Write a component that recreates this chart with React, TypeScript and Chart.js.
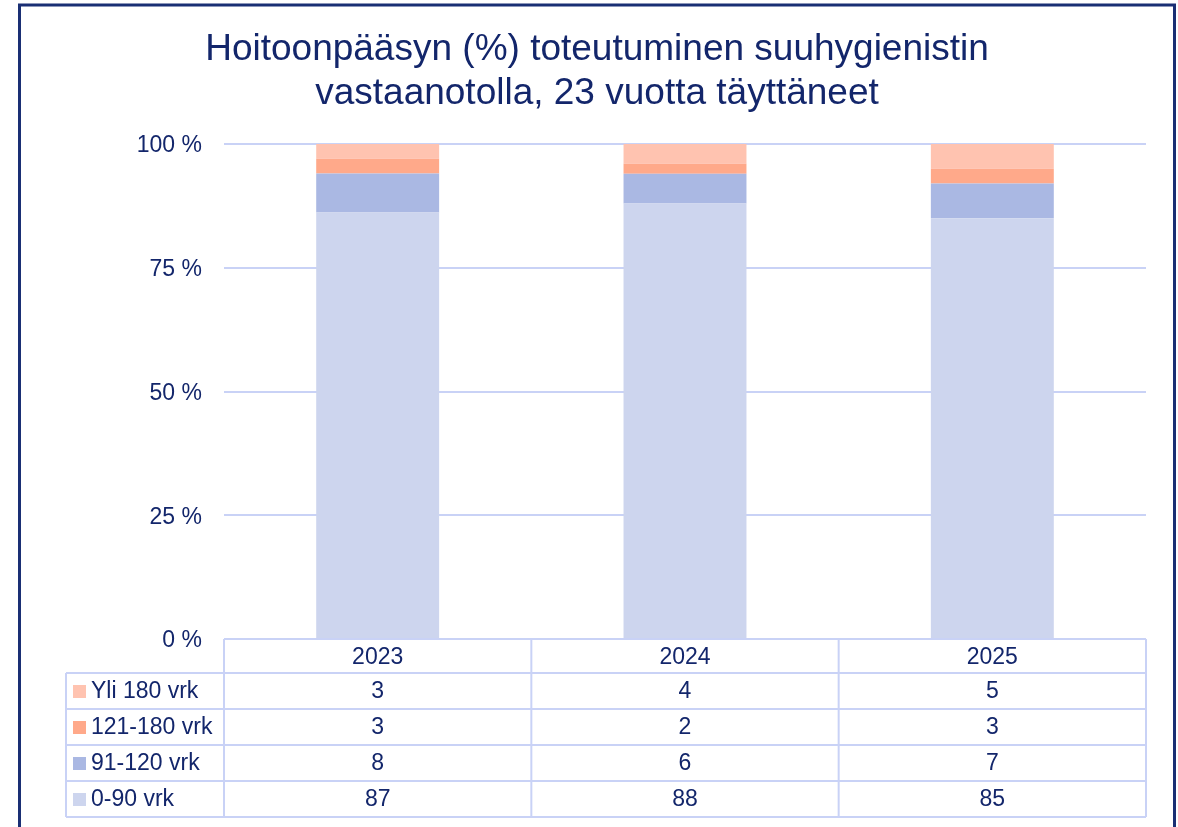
import React, { useEffect, useRef } from "react";
import { Chart, registerables } from "chart.js";

Chart.register(...registerables);

// ---- data ----
const categories = ["2023", "2024", "2025"];
const seriesLabels = ["0-90 vrk", "91-120 vrk", "121-180 vrk", "Yli 180 vrk"];
const values0to90 = [87, 88, 85];
const values91to120 = [8, 6, 7];
const values121to180 = [3, 2, 3];
const valuesOver180 = [3, 4, 5];
const seriesValues = [values0to90, values91to120, values121to180, valuesOver180];
const seriesColors = ["#CDD5EE", "#AAB8E3", "#FFA98A", "#FFC3B0"];
const yTickValues = [0, 25, 50, 75, 100];
const titleLines = [
  "Hoitoonpääsyn (%) toteutuminen suuhygienistin",
  "vastaanotolla, 23 vuotta täyttäneet",
];

const FONT = "'Liberation Sans', Arial, sans-serif";
const TEXT = "#13266B";
const GRID = "#C9D2F6";
const FRAME = "#1A2F74";

const totals = categories.map((_, i) =>
  seriesValues.reduce((s, arr) => s + arr[i], 0)
);

const framePlugin = {
  id: "framePlugin",
  beforeDraw(chart: any) {
    const ctx = chart.ctx;
    ctx.save();
    ctx.fillStyle = "#ffffff";
    ctx.fillRect(0, 0, chart.width, chart.height);
    ctx.restore();
  },
  afterDraw(chart: any) {
    const ctx = chart.ctx;
    ctx.save();
    // outer frame
    ctx.strokeStyle = FRAME;
    ctx.lineWidth = 3;
    ctx.beginPath();
    ctx.moveTo(19.5, 840);
    ctx.lineTo(19.5, 5);
    ctx.lineTo(1174.5, 5);
    ctx.lineTo(1174.5, 840);
    ctx.stroke();

    // title
    ctx.fillStyle = TEXT;
    ctx.font = `37px ${FONT}`;
    ctx.textAlign = "center";
    ctx.textBaseline = "alphabetic";
    ctx.fillText(titleLines[0], 597, 60);
    ctx.fillText(titleLines[1], 597, 103.5);

    // data table
    const area = chart.chartArea;
    const xs = chart.scales.x;
    const centers = categories.map((_, i) => xs.getPixelForValue(i));
    const bounds = [area.left];
    for (let i = 0; i < centers.length - 1; i++) bounds.push((centers[i] + centers[i + 1]) / 2);
    bounds.push(area.right);

    const top = area.bottom;
    const headerH = 34;
    const rowH = 36;
    const legendLeft = 66;
    const nRows = seriesLabels.length;
    const bottom = top + headerH + nRows * rowH;

    ctx.strokeStyle = GRID;
    ctx.lineWidth = 2;
    ctx.beginPath();
    ctx.moveTo(area.left, top);
    ctx.lineTo(area.right, top);
    for (let r = 0; r <= nRows; r++) {
      const y = top + headerH + r * rowH;
      ctx.moveTo(legendLeft, y);
      ctx.lineTo(area.right, y);
    }
    bounds.forEach((bx) => {
      ctx.moveTo(bx, top);
      ctx.lineTo(bx, bottom);
    });
    ctx.moveTo(legendLeft, top + headerH);
    ctx.lineTo(legendLeft, bottom);
    ctx.stroke();

    ctx.font = `23px ${FONT}`;
    ctx.fillStyle = TEXT;
    ctx.textBaseline = "middle";
    ctx.textAlign = "center";
    categories.forEach((c, i) => {
      ctx.fillText(c, centers[i], top + headerH / 2 + 2);
    });

    // rows: top series first
    for (let r = 0; r < nRows; r++) {
      const s = nRows - 1 - r;
      const yc = top + headerH + r * rowH + rowH / 2 + 1;
      ctx.fillStyle = seriesColors[s];
      ctx.fillRect(73, yc - 7, 13, 13);
      ctx.fillStyle = TEXT;
      ctx.textAlign = "left";
      ctx.fillText(seriesLabels[s], 91, yc);
      ctx.textAlign = "center";
      seriesValues[s].forEach((v, i) => {
        ctx.fillText(String(v), centers[i], yc);
      });
    }
    ctx.restore();
  },
};

export default function App() {
  const ref = useRef<HTMLCanvasElement | null>(null);

  useEffect(() => {
    document.body.style.margin = "0";
    if (!ref.current) return;
    const chart = new Chart(ref.current, {
      type: "bar",
      data: {
        labels: categories,
        datasets: seriesLabels.map((label, s) => ({
          label,
          data: seriesValues[s].map((v, i) => (v / totals[i]) * 100),
          backgroundColor: seriesColors[s],
          borderWidth: 0,
          barPercentage: 0.4,
          categoryPercentage: 1,
        })),
      },
      options: {
        animation: false,
        responsive: false,
        maintainAspectRatio: false,
        layout: { padding: { left: 0, right: 32, top: 144, bottom: 188 } },
        plugins: {
          legend: { display: false },
          title: { display: false },
          tooltip: { enabled: false },
        },
        scales: {
          x: {
            stacked: true,
            display: false,
          },
          y: {
            stacked: true,
            min: 0,
            max: 100,
            afterBuildTicks: (scale: any) => {
              scale.ticks = yTickValues.map((v) => ({ value: v }));
            },
            afterFit: (scale: any) => {
              scale.width = 224;
            },
            border: { display: false },
            grid: { color: GRID, lineWidth: 2, drawTicks: false },
            ticks: {
              padding: 22,
              labelOffset: 2,
              color: TEXT,
              font: { family: FONT, size: 23 },
              callback: (v: any) => `${v} %`,
            },
          },
        },
      },
      plugins: [framePlugin],
    });
    return () => chart.destroy();
  }, []);

  return (
    <div style={{ width: 1178, height: 827 }}>
      <canvas ref={ref} width={1178} height={827} style={{ display: "block" }} />
    </div>
  );
}
